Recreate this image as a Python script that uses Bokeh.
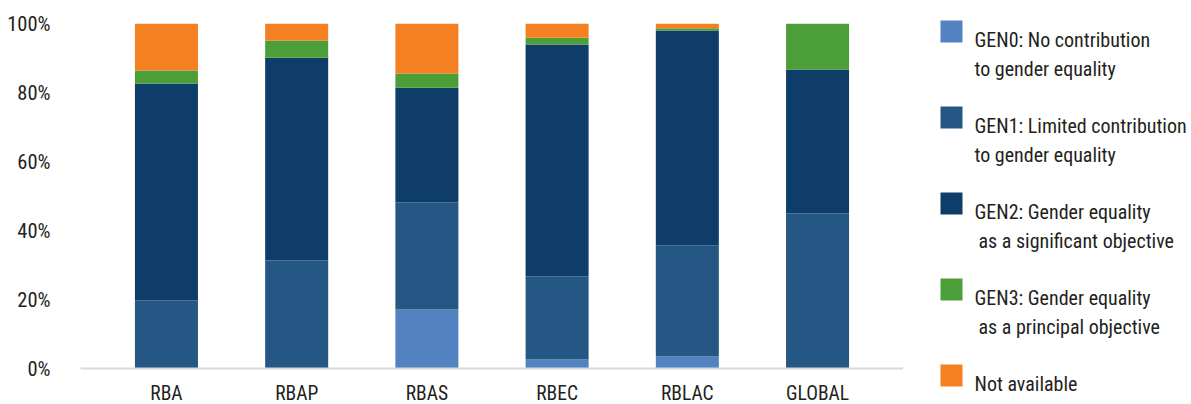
from bokeh.plotting import figure
from bokeh.layouts import row, column
from bokeh.models import (ColumnDataSource, FactorRange, Range1d, FixedTicker,
                          PrintfTickFormatter)
from bokeh.core.properties import value
from bokeh.embed import file_html
from bokeh.resources import INLINE

# Share of programme budget by gender marker, per regional bureau (%)
regions = ["RBA", "RBAP", "RBAS", "RBEC", "RBLAC", "GLOBAL"]
gen0 = [0.0, 0.0, 17.1, 2.6, 3.5, 0.0]
gen1 = [19.7, 31.3, 31.0, 24.1, 32.2, 44.9]
gen2 = [62.9, 58.8, 33.3, 67.2, 62.3, 41.8]
gen3 = [3.8, 5.0, 4.1, 2.0, 0.6, 13.3]
not_available = [13.6, 4.9, 14.5, 4.1, 1.4, 0.0]

y_ticks = [0, 20, 40, 60, 80, 100]

series_keys = ["gen0", "gen1", "gen2", "gen3", "na"]
series_labels = [
    "GEN0: No contribution\nto gender equality",
    "GEN1: Limited contribution\nto gender equality",
    "GEN2: Gender equality\n as a significant objective",
    "GEN3: Gender equality\n as a principal objective",
    "Not available",
]
colors = ["#5282BF", "#245783", "#0E3D6A", "#4C9E39", "#F58021"]

FONT = "'Roboto Condensed', 'Noto Sans Condensed', 'DejaVu Sans Condensed', sans-serif"
TEXT_COLOR = "#231F20"

source = ColumnDataSource(dict(region=regions, gen0=gen0, gen1=gen1, gen2=gen2,
                               gen3=gen3, na=not_available))

p = figure(
    x_range=FactorRange(factors=regions, range_padding=0.16,
                        range_padding_units="absolute"),
    y_range=Range1d(0, 100),
    frame_width=823, frame_height=345,
    min_border_left=80, min_border_top=23, min_border_right=0, min_border_bottom=0,
    output_backend="svg", toolbar_location=None,
)
p.vbar_stack(series_keys, x="region", width=0.484, fill_color=colors,
             line_color=None, source=source)

p.outline_line_color = None
p.xgrid.grid_line_color = None
p.ygrid.grid_line_color = None

p.yaxis.ticker = FixedTicker(ticks=y_ticks)
p.yaxis.formatter = PrintfTickFormatter(format="%d%%")
p.yaxis.axis_line_color = None
p.yaxis.major_tick_line_color = None
p.yaxis.minor_tick_line_color = None
p.yaxis.major_tick_out = 0
p.yaxis.minor_tick_out = 0
p.yaxis.major_label_standoff = 30
p.yaxis.major_label_text_font = FONT
p.yaxis.major_label_text_font_size = "20.5px"
p.yaxis.major_label_text_color = TEXT_COLOR

p.xaxis.axis_line_color = "#D9D9D9"
p.xaxis.axis_line_width = 2
p.xaxis.major_tick_line_color = None
p.xaxis.minor_tick_line_color = None
p.xaxis.major_tick_out = 0
p.xaxis.minor_tick_out = 0
p.xaxis.major_label_standoff = 13
p.xaxis.major_label_text_font = FONT
p.xaxis.major_label_text_font_size = "19.5px"
p.xaxis.major_label_text_color = TEXT_COLOR

# Legend panel in page-pixel coordinates (y grows downward); the panel sits
# slightly below the top of the row, so its range starts at that offset.
panel_offset = 7
leg = figure(width=288, height=404, x_range=Range1d(0, 288),
             y_range=Range1d(404 + panel_offset, panel_offset),
             x_axis_type=None, y_axis_type=None, title=None,
             min_border_left=0, min_border_right=0, min_border_top=0, min_border_bottom=0,
             output_backend="svg", toolbar_location=None)
leg.outline_line_color = None
leg.xgrid.grid_line_color = None
leg.ygrid.grid_line_color = None

row_step = 86
first_center = 38
line_gap = 28.7
sq_x, sq_size, text_x, indent = 48, 22, 71, 4

sq_y = [first_center + i * row_step for i in range(len(series_labels))]
leg.rect(x=[sq_x] * len(sq_y), y=sq_y, width=sq_size, height=sq_size,
         fill_color=colors, line_color=None)

tx, ty, tt = [], [], []
for cy, label in zip(sq_y, series_labels):
    for j, line in enumerate(label.split("\n")):
        stripped = line.lstrip()
        tx.append(text_x + (indent if stripped != line else 0))
        ty.append(cy + 8.3 + j * line_gap)
        tt.append(stripped)
leg.text(x=tx, y=ty, text=tt, text_font=value(FONT), text_font_size="20px",
         text_color=TEXT_COLOR, text_baseline="alphabetic", text_align="left")

layout = row(p, column(leg), spacing=0)

html = file_html(layout, INLINE)
html = html.replace("<head>", "<head><style>html,body{margin:0;overflow:hidden;}</style>", 1)
open("out.html", "w").write(html)
